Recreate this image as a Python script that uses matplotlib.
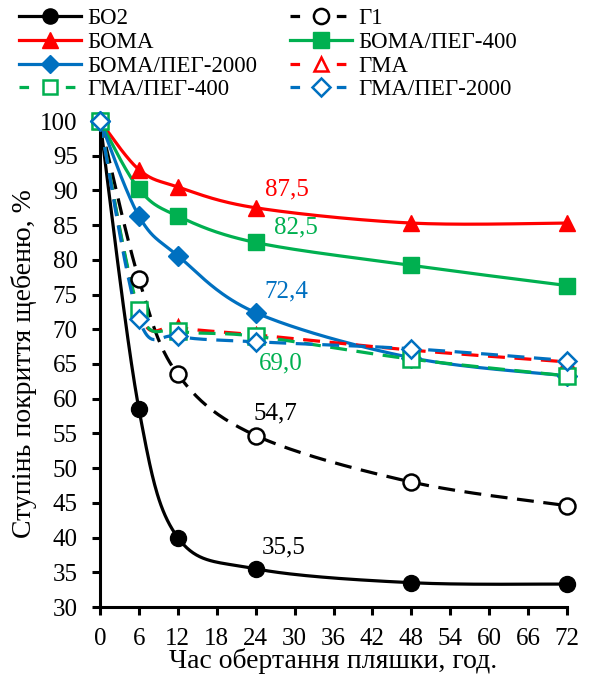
import numpy as np
import matplotlib
matplotlib.use("Agg")
import matplotlib.pyplot as plt
from matplotlib.lines import Line2D

plt.rcParams['font.family'] = ['Liberation Serif', 'DejaVu Serif']

hours = [0, 6, 12, 24, 48, 72]
bo2 = [100, 58.5, 40.0, 35.5, 33.5, 33.3]
g1 = [100, 77.2, 63.5, 54.7, 48.0, 44.6]
boma = [100, 93.0, 90.5, 87.5, 85.3, 85.3]
boma_peg400 = [100, 90.2, 86.3, 82.5, 79.2, 76.3]
boma_peg2000 = [100, 86.3, 80.6, 72.4, 65.9, 63.3]
gma = [100, 72.5, 70.3, 69.2, 67.0, 65.3]
gma_peg400 = [100, 72.8, 69.8, 69.0, 65.7, 63.3]
gma_peg2000 = [100, 71.5, 69.0, 68.2, 67.2, 65.5]

x_ticks = list(range(0, 73, 6))
y_ticks = list(range(30, 101, 5))

labels = ["БО2", "Г1", "БОМА", "БОМА/ПЕГ-400", "БОМА/ПЕГ-2000",
          "ГМА", "ГМА/ПЕГ-400", "ГМА/ПЕГ-2000"]

annotations = [("87,5", 24, 87.5), ("82,5", 24, 82.5), ("72,4", 24, 72.4),
               ("69,0", 24, 69.0), ("54,7", 24, 54.7), ("35,5", 24, 35.5)]

RED = "#FF0000"
GREEN = "#00B050"
BLUE = "#0070C0"
BLACK = "#000000"


def smooth(xs, ys, n=40):
    xs = np.asarray(xs, float)
    ys = np.asarray(ys, float)
    P = np.column_stack([xs, ys])
    out = []
    for i in range(len(P) - 1):
        p0 = P[i - 1] if i > 0 else P[i]
        p1 = P[i]
        p2 = P[i + 1]
        p3 = P[i + 2] if i + 2 < len(P) else P[i + 1]
        c1 = p1 + (p2 - p0) / 6.0
        c2 = p2 - (p3 - p1) / 6.0
        t = np.linspace(0, 1, n)[:, None]
        seg = ((1 - t) ** 3) * p1 + 3 * ((1 - t) ** 2) * t * c1 + 3 * (1 - t) * t ** 2 * c2 + t ** 3 * p2
        if i > 0:
            seg = seg[1:]
        out.append(seg)
    out = np.vstack(out)
    return out[:, 0], out[:, 1]


fig = plt.figure(figsize=(5.89, 6.79), dpi=100)
ax = fig.add_axes([100 / 589, (679 - 607) / 679, (567 - 100) / 589, (607 - 121) / 679])

lw = 2.3
dash = (0, (5.3, 3.0))
leg_dash = (0, (3.0, 11.5))

series = [
    (bo2, BLACK, '-', 'o', True, 11.5),
    (g1, BLACK, dash, 'o', False, 11.5),
    (boma, RED, '-', '^', True, 11.5),
    (boma_peg400, GREEN, '-', 's', True, 12),
    (boma_peg2000, BLUE, '-', 'D', True, 10),
    (gma, RED, dash, '^', False, 10.5),
    (gma_peg400, GREEN, dash, 's', False, 11),
    (gma_peg2000, BLUE, dash, 'D', False, 9.5),
]

handles = []
for (vals, col, ls, mk, filled, ms), lab in zip(series, labels):
    sx, sy = smooth(hours, vals)
    ax.plot(sx, sy, color=col, linestyle=ls, linewidth=lw, zorder=2, clip_on=False)
    mfc = col if filled else 'white'
    mew = 1.0 if filled else 1.8
    ax.plot(hours, vals, linestyle='none', marker=mk, markersize=ms,
            markerfacecolor=mfc, markeredgecolor=col, markeredgewidth=mew,
            zorder=3, clip_on=False)
    handles.append(Line2D([], [], color=col, linestyle=(ls if ls == '-' else leg_dash),
                          linewidth=lw, marker=mk, markersize=ms * 0.95,
                          markerfacecolor=mfc, markeredgecolor=col, markeredgewidth=mew))

ann_colors = [RED, GREEN, BLUE, GREEN, BLACK, BLACK]
ann_offsets = [(1.4, 2.6), (2.8, 2.1), (1.4, 3.0), (0.5, -3.9), (-0.3, 3.2), (1.0, 3.1)]
for (txt, x, y), c, (dx, dy) in zip(annotations, ann_colors, ann_offsets):
    ax.text(x + dx, y + dy, txt, color=c, fontsize=18, ha='left', va='center')

ax.set_xlim(0, 72)
ax.set_ylim(30, 100)
ax.set_xticks(x_ticks)
ax.set_yticks(y_ticks)
ax.tick_params(axis='both', direction='out', length=6, width=2.2, labelsize=18)
ax.tick_params(axis='x', pad=9)
ax.tick_params(axis='y', pad=10)
for s in ['top', 'right']:
    ax.spines[s].set_visible(False)
for s in ['left', 'bottom']:
    ax.spines[s].set_linewidth(2.2)

ax.set_xlabel("Час обертання пляшки, год.", fontsize=20, labelpad=-1)
ax.set_ylabel("Ступінь покриття щебеню, %", fontsize=20, labelpad=2)

order = [0, 2, 4, 6, 1, 3, 5, 7]
fig.legend([handles[i] for i in order], [labels[i] for i in order],
           ncol=2, loc='upper left', bbox_to_anchor=(19 / 589, 1 - 8 / 679),
           frameon=False, fontsize=16.5, handlelength=2.7, handletextpad=0.26,
           columnspacing=1.45, labelspacing=0.12, borderaxespad=0.0, borderpad=0.0)

fig.savefig("out.png", dpi=100)
